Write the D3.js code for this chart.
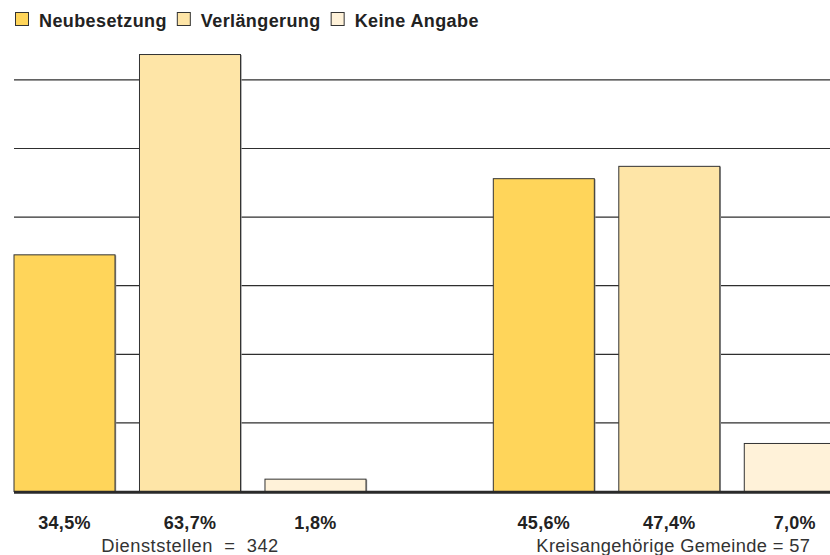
<!DOCTYPE html>
<html>
<head>
<meta charset="utf-8">
<script src="https://cdn.jsdelivr.net/npm/d3@7"></script>
<style>
  html, body { margin: 0; padding: 0; background: #fff; }
  svg { display: block; font-family: "Liberation Sans", Arial, Helvetica, sans-serif; }
</style>
</head>
<body>
<svg id="chart" width="830" height="555"></svg>
<script>
// ---- data ----
const groups = ["Dienststellen", "Kreisangehörige Gemeinde"];
const groupCounts = [342, 57];
const series = ["Neubesetzung", "Verlängerung", "Keine Angabe"];
const colors = ["#FFD55A", "#FEE5A7", "#FFF2D9"];
const dienststellenValues = [34.5, 63.7, 1.8];
const gemeindeValues = [45.6, 47.4, 7.0];
const gridTicks = [10, 20, 30, 40, 50, 60];

const values = [dienststellenValues, gemeindeValues];
const groupLabels = ["Dienststellen  =  342", "Kreisangehörige Gemeinde = 57"];

const svg = d3.select("#chart");
const W = 830;

const y = d3.scaleLinear().domain([0, 70]).range([491.5, 11.3]);
const x0 = d3.scaleBand().domain(groups).range([14, 845.3]).paddingInner(0.2656).paddingOuter(0);
const x1 = d3.scaleBand().domain(series).range([0, x0.bandwidth()]).paddingInner(0.195).paddingOuter(0);
const color = d3.scaleOrdinal().domain(series).range(colors);
const de = d3.formatLocale({decimal: ",", thousands: ".", grouping: [3], currency: ["", " €"]});
const fmt = de.format(".1f");

// gridlines
svg.append("g").selectAll("line").data(gridTicks).join("line")
  .attr("x1", 14).attr("x2", W)
  .attr("y1", d => y(d)).attr("y2", d => y(d))
  .attr("stroke", "#2e2e2e").attr("stroke-width", 1.2);

// bars
const gG = svg.append("g").selectAll("g").data(groups).join("g")
  .attr("transform", d => `translate(${x0(d)},0)`);

gG.each(function(g, gi) {
  const sel = d3.select(this);
  const data = series.map((s, i) => ({s, v: values[gi][i]}));
  // subtle shadow on right
  sel.selectAll("rect.sh").data(data).join("rect").attr("class", "sh")
    .attr("x", d => x1(d.s) + 1.2).attr("y", d => y(d.v) + 0.5)
    .attr("width", x1.bandwidth()).attr("height", d => y(0) - y(d.v))
    .attr("fill", "#9a9a9a");
  sel.selectAll("rect.bar").data(data).join("rect").attr("class", "bar")
    .attr("x", d => x1(d.s)).attr("y", d => y(d.v))
    .attr("width", x1.bandwidth()).attr("height", d => y(0) - y(d.v))
    .attr("fill", d => color(d.s))
    .attr("stroke", "#333").attr("stroke-width", 1);
  sel.selectAll("text.val").data(data).join("text").attr("class", "val")
    .attr("x", d => x1(d.s) + x1.bandwidth() / 2).attr("y", 529)
    .attr("text-anchor", "middle").attr("font-size", 18).attr("font-weight", "bold")
    .attr("letter-spacing", 0.3)
    .attr("fill", "#222")
    .text(d => fmt(d.v) + "%");
  sel.append("text")
    .attr("x", x0.bandwidth() / 2 + (gi === 1 ? 4 : 0)).attr("y", 551.5)
    .attr("text-anchor", "middle").attr("font-size", 18.3)
    .attr("letter-spacing", gi === 0 ? 0.55 : 0.35)
    .attr("fill", "#333").style("white-space", "pre")
    .text(groupLabels[gi]);
});

// baseline
svg.append("line").attr("x1", 14).attr("x2", W)
  .attr("y1", y(0) + 0.8).attr("y2", y(0) + 0.8)
  .attr("stroke", "#2a2a2a").attr("stroke-width", 3);

// legend
const leg = svg.append("g");
let lx = 15;
series.forEach((s, i) => {
  leg.append("rect").attr("x", lx + 0.5).attr("y", 12.5).attr("width", 13).attr("height", 13)
    .attr("fill", colors[i]).attr("stroke", "#333").attr("stroke-width", 1);
  const t = leg.append("text").attr("x", lx + 24).attr("y", 26.5)
    .attr("font-size", 18).attr("font-weight", "bold").attr("letter-spacing", 0.4)
    .attr("fill", "#222").text(s);
  lx = lx + 24 + t.node().getComputedTextLength() + 10;
});
</script>
</body>
</html>
